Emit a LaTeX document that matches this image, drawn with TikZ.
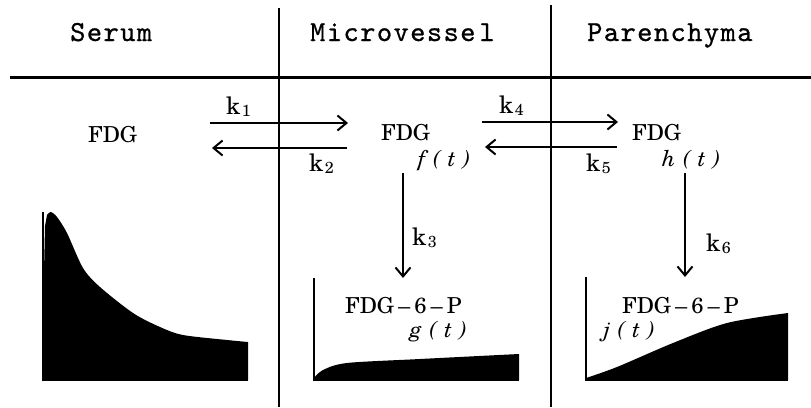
\documentclass[tikz,border=0pt]{standalone}
\usepackage{fontspec}
\setmainfont{texgyreschola-regular.otf}[BoldFont=texgyreschola-bold.otf, ItalicFont=texgyreschola-italic.otf, BoldItalicFont=texgyreschola-bolditalic.otf]
\newfontfamily\hdrfont{lmmono10-regular.otf}[LetterSpace=5, FakeBold=0.8]
\newfontfamily\fnfont{texgyreschola-italic.otf}[LetterSpace=34]
\usetikzlibrary{arrows.meta}
\newcommand\kk[1]{k\kern1.5pt\raisebox{-2pt}{\fontsize{16}{16}\selectfont #1}}
\begin{document}
\begin{tikzpicture}[x=1pt,y=-1pt,
  hdr/.style={font=\hdrfont\fontsize{29}{29}\selectfont, anchor=base west, inner sep=0pt},
  lbl/.style={font=\fontsize{22}{22}\selectfont, anchor=base west, inner sep=0pt},
  klbl/.style={font=\fontsize{24}{24}\selectfont, anchor=base west, inner sep=0pt},
  fn/.style={font=\fnfont\fontsize{22}{22}\selectfont, anchor=base west, inner sep=0pt},
  arr/.style={line width=2pt, -{Straight Barb[length=9pt,width=15pt,line width=2pt]}},
  rule/.style={line width=2pt},
  curve/.style={fill=black}]
\useasboundingbox (0,0) rectangle (811,407);
% headers
\node[hdr] (hs) at (70,41) {Serum};
\node[hdr] (hm) at (310,41) {Microvesse\kern4pt l};
\node[hdr] (hp) at (587,41) {Parenchyma};
% rules
\coordinate (hl1) at (10,77);
\coordinate (hl2) at (811,77);
\coordinate (v1t) at (279,8);
\coordinate (v1b) at (279,407);
\coordinate (v2t) at (551,5);
\coordinate (v2b) at (551,407);
\draw[line width=3pt] (hl1) -- (hl2);
\draw[rule] (v1t) -- (v1b);
\draw[rule] (v2t) -- (v2b);
% compartments
\node[lbl] (fs) at (88,142) {FDG};
\node[lbl] (fm) at (381,140) {FDG};
\node[fn] (ft) at (418,166) {f(t)};
\node[lbl] (fp) at (632,140) {FDG};
\node[fn] (ht) at (662,166) {h(t)};
% arrow endpoints
\coordinate (a1s) at (210,123); \coordinate (a1e) at (348,123);
\coordinate (a2s) at (347,148); \coordinate (a2e) at (212,148);
\coordinate (a4s) at (482,122); \coordinate (a4e) at (618,122);
\coordinate (a5s) at (617,147); \coordinate (a5e) at (485,147);
\coordinate (a3s) at (403,173); \coordinate (a3e) at (403,278);
\coordinate (a6s) at (685,173); \coordinate (a6e) at (685,277);
\draw[arr] (a1s) -- (a1e);
\draw[arr] (a2s) -- (a2e);
\draw[arr] (a4s) -- (a4e);
\draw[arr] (a5s) -- (a5e);
\draw[arr] (a3s) -- (a3e);
\draw[arr] (a6s) -- (a6e);
% rate labels
\node[klbl] (k1) at (226,114) {\kk{1}};
\node[klbl] (k2) at (309,171) {\kk{2}};
\node[klbl] (k4) at (499,113) {\kk{4}};
\node[klbl] (k5) at (586,171) {\kk{5}};
\node[klbl] (k3) at (412,245) {\kk{3}};
\node[klbl] (k6) at (706,251) {\kk{6}};
% serum curve
\fill[curve] (44,380) -- (44,272) -- (45,226) -- plot[smooth] coordinates {(47,215) (51,212) (57,217) (67,233) (83,268) (100,287) (133,313) (160,327) (183,335) (227,340) (248,342)} -- (248,380) -- cycle;
\draw[rule] (43,212) -- (43,380) -- (248,380);
% microvessel curve
\fill[curve] (314,380) -- plot[smooth] coordinates {(314,378) (323,370) (347,363) (420,359) (519,354)} -- (519,380) -- cycle;
\draw[rule] (314,278) -- (314,380) -- (519,380);
\node[lbl] (gm) at (345,313) {FDG\kern4pt--\kern4pt6\kern4pt--\kern4pt P};
\node[fn] (gt) at (410,337) {g(t)};
% parenchyma curve
\fill[curve] (586,380) -- plot[smooth] coordinates {(586,378) (617,367) (673,343) (727,323) (788,313)} -- (788,380) -- cycle;
\draw[rule] (586,277) -- (586,380) -- (788,380);
\node[lbl] (gp) at (622,313) {FDG\kern4pt--\kern4pt6\kern4pt--\kern4pt P};
\node[fn] (jt) at (603,337) {j(t)};
\end{tikzpicture}
\end{document}
